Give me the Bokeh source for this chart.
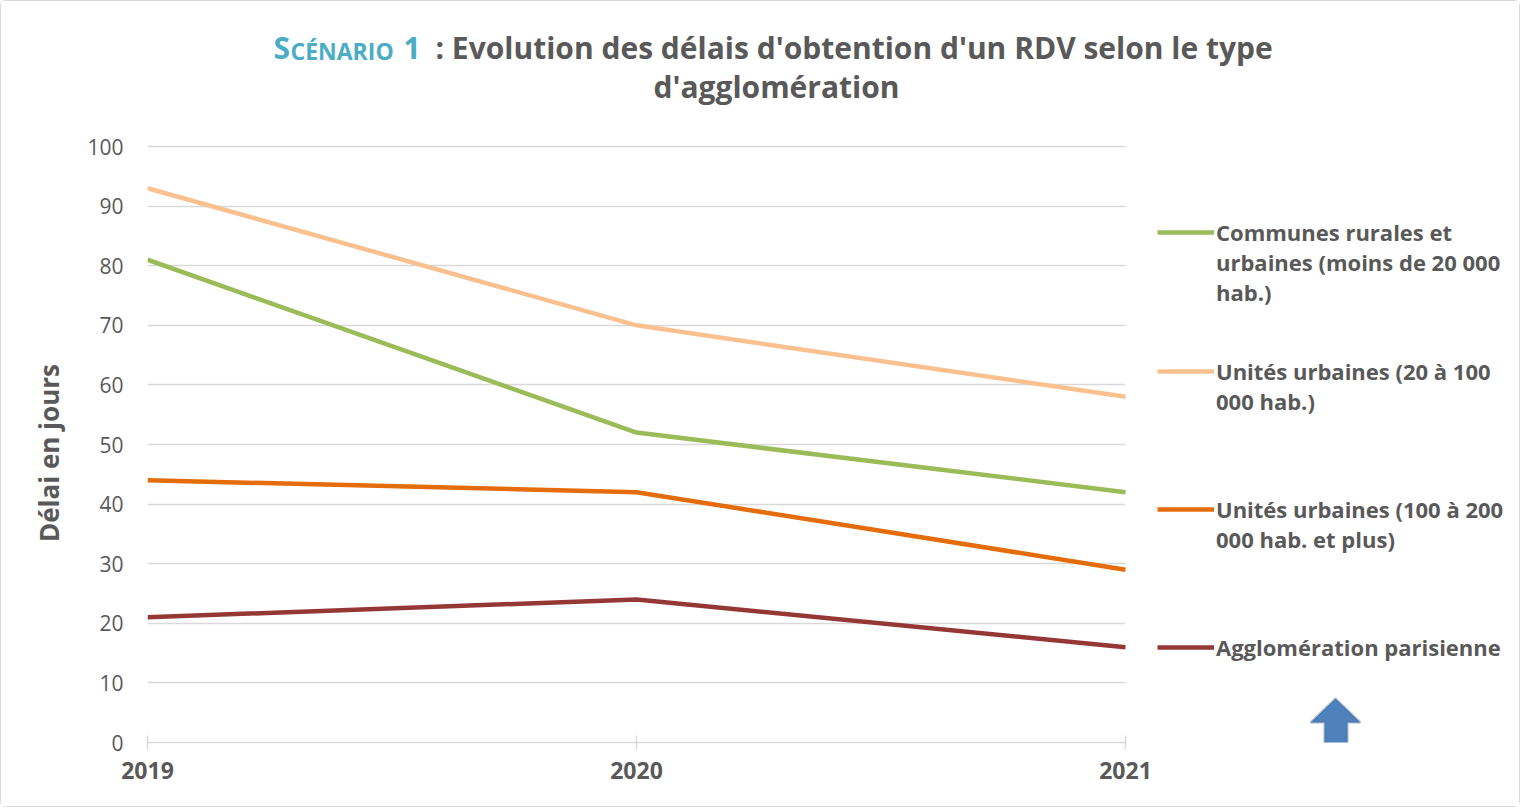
from bokeh.plotting import figure
from bokeh.models import Range1d, FixedTicker, Legend, LegendItem, Label, PolyAnnotation
from bokeh.embed import file_html
from bokeh.resources import INLINE

years = [2019, 2020, 2021]
communes = [81, 52, 42]
uu_20_100 = [93, 70, 58]
uu_100_200 = [44, 42, 29]
paris = [21, 24, 16]
series = [communes, uu_20_100, uu_100_200, paris]
names = [
    "Communes rurales et\nurbaines (moins de 20 000\nhab.)",
    "Unités urbaines (20 à 100\n000 hab.)",
    "Unités urbaines (100 à 200\n000 hab. et plus)",
    "Agglomération parisienne",
]
colors = ["#9BBB59", "#FAC090", "#E46C0A", "#953735"]
y_ticks = list(range(0, 101, 10))
y_label = "Délai en jours"

FONT = "Open Sans"
GREY = "#595959"

# layout (pixels)
W, H = 1520, 807
LEFT, BOTTOM = 146, 66          # frame left / bottom borders
PLOT_W = 978                    # pixels from 2019 to 2021
PLOT_H = 596                    # pixels from 0 to 100
frame_w = W - LEFT
frame_h = H - BOTTOM
x_end = years[0] + frame_w * (years[-1] - years[0]) / PLOT_W
y_end = frame_h * 100 / PLOT_H

p = figure(width=W, height=H, output_backend="svg", toolbar_location=None,
           x_range=Range1d(years[0], x_end), y_range=Range1d(0, y_end),
           min_border_left=LEFT, min_border_right=0, min_border_top=0, min_border_bottom=BOTTOM)
p.styles = {"border": "1px solid #d9d9d9", "border-radius": "6px"}
p.outline_line_color = None
p.xgrid.grid_line_color = None
p.ygrid.ticker = FixedTicker(ticks=y_ticks)
try:
    p.ygrid.cross_bounds = (years[0], years[-1])
    p.ygrid.grid_line_color = "#D9D9D9"
    p.ygrid.grid_line_width = 1.5
except Exception:
    p.ygrid.grid_line_color = None
    p.segment(x0=[years[0]] * len(y_ticks), x1=[years[-1]] * len(y_ticks),
              y0=y_ticks, y1=y_ticks, line_color="#D9D9D9", line_width=1.5)

p.xaxis.ticker = FixedTicker(ticks=years)
p.xaxis.bounds = (years[0], years[-1])
p.xaxis.axis_line_color = "#D9D9D9"
p.xaxis.axis_line_width = 1.5
p.xaxis.major_tick_line_color = "#D9D9D9"
p.xaxis.major_tick_line_width = 1.5
p.xaxis.major_tick_in = 7
p.xaxis.major_tick_out = 7
p.xaxis.minor_tick_line_color = None
p.xaxis.major_label_text_font = FONT
p.xaxis.major_label_text_font_style = "bold"
p.xaxis.major_label_text_font_size = "23px"
p.xaxis.major_label_text_color = GREY
p.xaxis.major_label_standoff = 12

p.yaxis.ticker = FixedTicker(ticks=y_ticks)
p.yaxis.bounds = (0, 100)
p.yaxis.axis_line_color = None
p.yaxis.major_tick_line_color = None
p.yaxis.minor_tick_line_color = None
p.yaxis.major_tick_out = 0
p.yaxis.major_tick_in = 0
p.yaxis.major_label_text_font = FONT
p.yaxis.major_label_text_font_size = "21px"
p.yaxis.major_label_text_color = GREY
p.yaxis.major_label_standoff = 24
# the label is centred on the frame (which also holds the title); trailing
# no-break spaces move the visible text down to the middle of the 0-100 scale
p.yaxis.axis_label = y_label + "\u00a0" * 24
p.yaxis.axis_label_text_font = FONT
p.yaxis.axis_label_text_font_style = "bold"
p.yaxis.axis_label_text_font_size = "26px"
p.yaxis.axis_label_text_color = GREY
p.yaxis.axis_label_standoff = 17

renderers = []
for vals, col in zip(series, colors):
    r = p.line(years, vals, line_color=col, line_width=4.5)
    renderers.append(r)

# invisible renderer used for the continuation lines of wrapped legend labels
blank = p.line(x=[], y=[], line_alpha=0)

# legends (one per entry, glyph on the first text line like the original)
leg_pos = [(1010, 435), (1010, 326), (1010, 188), (1010, 80)]
for r, name, pos in zip(renderers, names, leg_pos):
    lines = name.split("\n")
    items = [LegendItem(label=lines[0], renderers=[r])]
    items += [LegendItem(label=ln, renderers=[blank]) for ln in lines[1:]]
    lg = Legend(items=items, location=pos, spacing=0,
                border_line_color=None, background_fill_alpha=0, padding=0, margin=0,
                glyph_width=57, glyph_height=28, label_standoff=2, label_height=28,
                label_text_font=FONT, label_text_font_style="bold",
                label_text_font_size="22px", label_text_color=GREY)
    p.add_layout(lg, "center")

# title
title_parts = [
    ("S", 126, 695, "30px", "#4BACC6"),
    ("CÉNARIO", 143, 692, "23px", "#4BACC6"),
    ("1", 256, 695, "30px", "#4BACC6"),
    (": Evolution des délais d'obtention d'un RDV selon le type", 288, 695, "30px", GREY),
]
for txt, sx, sy, fs, col in title_parts:
    p.add_layout(Label(x=sx, y=sy, x_units="screen", y_units="screen", text=txt,
                       text_font=FONT, text_font_style="bold", text_font_size=fs,
                       text_color=col, text_baseline="alphabetic", text_align="left"))
p.add_layout(Label(x=629, y=656, x_units="screen", y_units="screen", text="d'agglomération",
                   text_font=FONT, text_font_style="bold", text_font_size="30px",
                   text_color=GREY, text_baseline="alphabetic", text_align="center"))

# arrow
p.add_layout(PolyAnnotation(xs=[1188, 1213, 1200, 1200, 1177, 1177, 1163],
                            ys=[44, 20, 20, -6, -6, 20, 20],
                            xs_units="screen", ys_units="screen",
                            fill_color="#4F81BD", fill_alpha=1,
                            line_color="#385D8A", line_width=2.5))

open("out.html", "w").write(file_html(p, INLINE))
